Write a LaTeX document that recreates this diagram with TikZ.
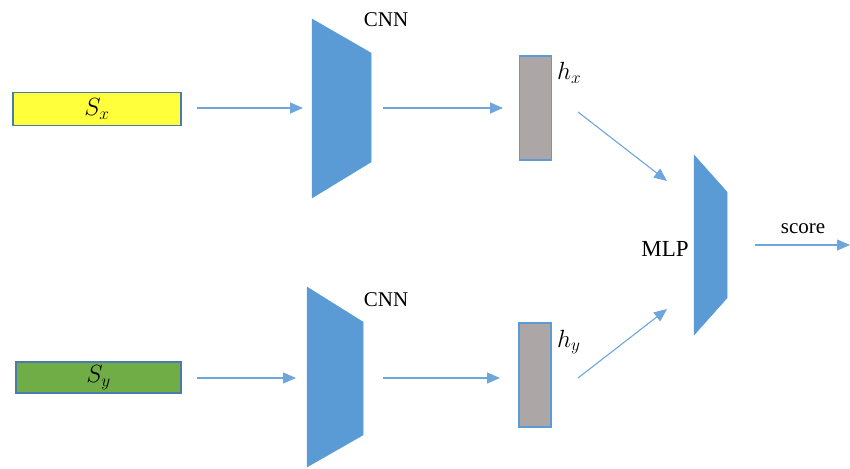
\documentclass[tikz,border=0pt]{standalone}
\usepackage{fontspec}
\setmainfont{Liberation Serif}
\usetikzlibrary{arrows.meta}
\definecolor{cnnblue}{RGB}{91,155,213}
\definecolor{arrblue}{RGB}{110,165,220}
\definecolor{sxyellow}{RGB}{255,255,60}
\definecolor{sygreen}{RGB}{112,173,71}
\definecolor{hgray}{RGB}{172,166,166}
\tikzset{
  inbox/.style={draw=cnnblue!80!black, line width=1.2pt, minimum width=168pt, minimum height=33pt, inner sep=0pt},
  hbox/.style={draw=cnnblue, fill=hgray, line width=1.5pt, minimum width=32pt, minimum height=104pt, inner sep=0pt},
  trap/.style={fill=cnnblue, draw=cnnblue, line width=0.5pt},
  flow/.style={-{Triangle[length=13pt,width=11pt]}, draw=arrblue, line width=1.1pt},
  lbl/.style={font=\fontsize{21}{21}\selectfont, inner sep=0pt},
  mlbl/.style={font=\fontsize{25}{25}\selectfont, inner sep=0pt}
}
\begin{document}
\begin{tikzpicture}[x=1pt,y=-1pt]
\useasboundingbox (0,0) rectangle (850,468);
% inputs
\node[inbox, fill=sxyellow] (sx) at (97,109) {\fontsize{25}{25}\selectfont$S_x$};
\node[inbox, fill=sygreen, minimum width=165pt, minimum height=31pt] (sy) at (98.5,377.5) {\fontsize{25}{25}\selectfont$S_y$};
% CNNs
\draw[trap] (312,19) -- (371,53) -- (371,162) -- (312,198) -- cycle;
\draw[trap] (307,287) -- (363,322) -- (363,435) -- (307,467) -- cycle;
\node[lbl, anchor=base] (cnn1) at (386,27) {CNN};
\node[lbl, anchor=base] (cnn2) at (386,306) {CNN};
% hidden
\node[hbox] (hx) at (535.5,108) {};
\node[hbox] (hy) at (535,375) {};
\node[mlbl, anchor=base west] (hxl) at (557,80) {$h_x$};
\node[mlbl, anchor=base west] (hyl) at (557,347) {$h_y$};
% MLP
\draw[trap] (694,155) -- (727,192) -- (727,298) -- (694,335) -- cycle;
\node[lbl, anchor=base, font=\fontsize{23}{23}\selectfont] (mlp) at (665,256) {MLP};
\node[lbl, anchor=base] (score) at (803,233) {score};
% connector end points
\coordinate (a1s) at (197,108);
\coordinate (a1e) at (303,108);
\coordinate (a2s) at (383,108);
\coordinate (a2e) at (503,108);
\coordinate (a3s) at (197,378);
\coordinate (a3e) at (296,378);
\coordinate (a4s) at (383,378);
\coordinate (a4e) at (500,378);
\coordinate (a5s) at (578,112);
\coordinate (m1) at (667,181);
\coordinate (a6s) at (578,378);
\coordinate (m2) at (667,309);
\coordinate (mr) at (755,245);
\coordinate (out) at (850,245);
% arrows
\draw[flow] (a1s) -- (a1e);
\draw[flow] (a2s) -- (a2e);
\draw[flow] (a3s) -- (a3e);
\draw[flow] (a4s) -- (a4e);
\draw[flow] (a5s) -- (m1);
\draw[flow] (a6s) -- (m2);
\draw[flow] (mr) -- (out);
\end{tikzpicture}
\end{document}
